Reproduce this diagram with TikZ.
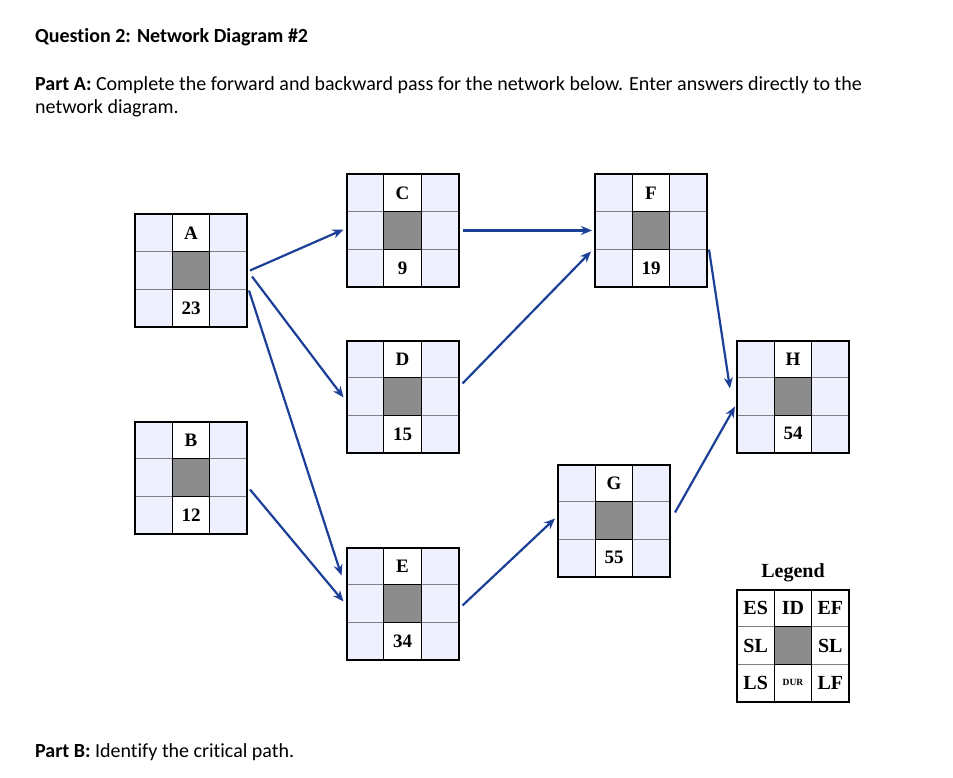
\documentclass[tikz,border=0pt]{standalone}
\usepackage{fontspec}
\setmainfont{Carlito}[Ligatures={NoCommon}]
\newfontfamily\tnr{Liberation Serif}
\usetikzlibrary{arrows.meta,calc}
\definecolor{lav}{HTML}{EEF1FD}
\definecolor{midgray}{HTML}{8C8C8C}
\definecolor{gridgray}{HTML}{7F7F86}
\definecolor{arrowblue}{HTML}{1C3F98}
\tikzset{
  netbox/.style={minimum width=112pt,minimum height=112pt,inner sep=0pt,draw=black,line width=2pt},
  lbl/.style={font=\tnr\bfseries\fontsize{19}{19}\selectfont,inner sep=0pt},
  leglbl/.style={font=\tnr\bfseries\fontsize{20}{20}\selectfont,inner sep=0pt},
  txt/.style={anchor=base west,inner sep=0pt,font=\fontsize{20}{24}\selectfont},
  flow/.style={draw=arrowblue,line width=2.2pt,-{Stealth[length=11pt,width=9pt]}},
}
\newcommand\netgrid[4]{% name, x, y, side colour
  \begin{scope}[shift={(#2,#3)}]
    \fill[#4] (-56,-56) rectangle (56,56);
    \fill[white] (-18.67,-56) rectangle (18.67,-18.67);
    \fill[white] (-18.67,18.67) rectangle (18.67,56);
    \fill[midgray] (-18.67,-18.67) rectangle (18.67,18.67);
    \draw[gridgray,line width=1.2pt] (-56,-18.67) -- (-18.67,-18.67) (-56,18.67) -- (-18.67,18.67)
      (18.67,-18.67) -- (56,-18.67) (18.67,18.67) -- (56,18.67);
    \draw[black,line width=1.2pt] (-18.67,-56) -- (-18.67,56) (18.67,-56) -- (18.67,56)
      (-18.67,-18.67) -- (18.67,-18.67) (-18.67,18.67) -- (18.67,18.67);
    \node[netbox] (#1) at (0,0) {};
  \end{scope}}
\newcommand\netnode[5]{% name, x, y, top, bottom
  \netgrid{#1}{#2}{#3}{lav}
  \node[lbl] at ($(#1)+(0,-37.33)$) {#4};
  \node[lbl] at ($(#1)+(0,37.33)$) {#5};}
\begin{document}
\begin{tikzpicture}[x=1pt,y=-1pt]
\fill[white] (0,0) rectangle (953,778);
\useasboundingbox (0,0) rectangle (953,778);

\node[txt] (q) at (35,43) {\textbf{Question 2: Network Diagram \#2}};
\node[txt] (pa1) at (35,91) {\textbf{Part A:} Complete the forward and backward pass for the network below. Enter answers directly to the};
\node[txt] (pa2) at (35,114) {network diagram.};
\node[txt] (pb) at (35,757) {\textbf{Part B:} Identify the critical path.};

\netnode{A}{191}{270.5}{A}{23}
\netnode{B}{191}{477.5}{B}{12}
\netnode{C}{402.5}{230.5}{C}{9}
\netnode{D}{402.5}{396.5}{D}{15}
\netnode{E}{402.5}{603.5}{E}{34}
\netnode{F}{651}{230.5}{F}{19}
\netnode{G}{614}{520.5}{G}{55}
\netnode{H}{793}{396.5}{H}{54}

% legend
\netgrid{L}{793}{645.5}{white}
\node[leglbl] (legt) at (793,573) {Legend};
\node[leglbl] at ($(L)+(-37.33,-37.33)$) {ES};
\node[leglbl] at ($(L)+(0,-37.33)$) {ID};
\node[leglbl] at ($(L)+(37.33,-37.33)$) {EF};
\node[leglbl] at ($(L)+(-37.33,0)$) {SL};
\node[leglbl] at ($(L)+(37.33,0)$) {SL};
\node[leglbl] at ($(L)+(-37.33,37.33)$) {LS};
\node[font=\tnr\bfseries\fontsize{9.5}{9.5}\selectfont,inner sep=0pt] at ($(L)+(0,37.33)$) {DUR};
\node[leglbl] at ($(L)+(37.33,37.33)$) {LF};

% connectors
\draw[flow] ($(A.east)+(2,0)$) -- ($(C.west)+(-2,-1)$);
\draw[flow] ($(A.east)+(4,6)$) -- ($(D.west)+(-2,1)$);
\draw[flow] ($(A.east)+(1,20)$) -- ($(E.west)+(-4,-28)$);
\draw[flow] ($(B.east)+(2,12)$) -- ($(E.west)+(-2,-2)$);
\draw[flow] ($(C.east)+(3,0)$) -- ($(F.west)+(-2,0)$);
\draw[flow] ($(D.east)+(3,-13)$) -- ($(F.west)+(-3,21)$);
\draw[flow] ($(E.east)+(3,2)$) -- ($(G.west)+(-2,-2)$);
\draw[flow] ($(F.east)+(1,19)$) -- ($(H.west)+(-6,-8)$);
\draw[flow] ($(G.east)+(4,-8)$) -- ($(H.west)+(-1,10)$);
\end{tikzpicture}
\end{document}
